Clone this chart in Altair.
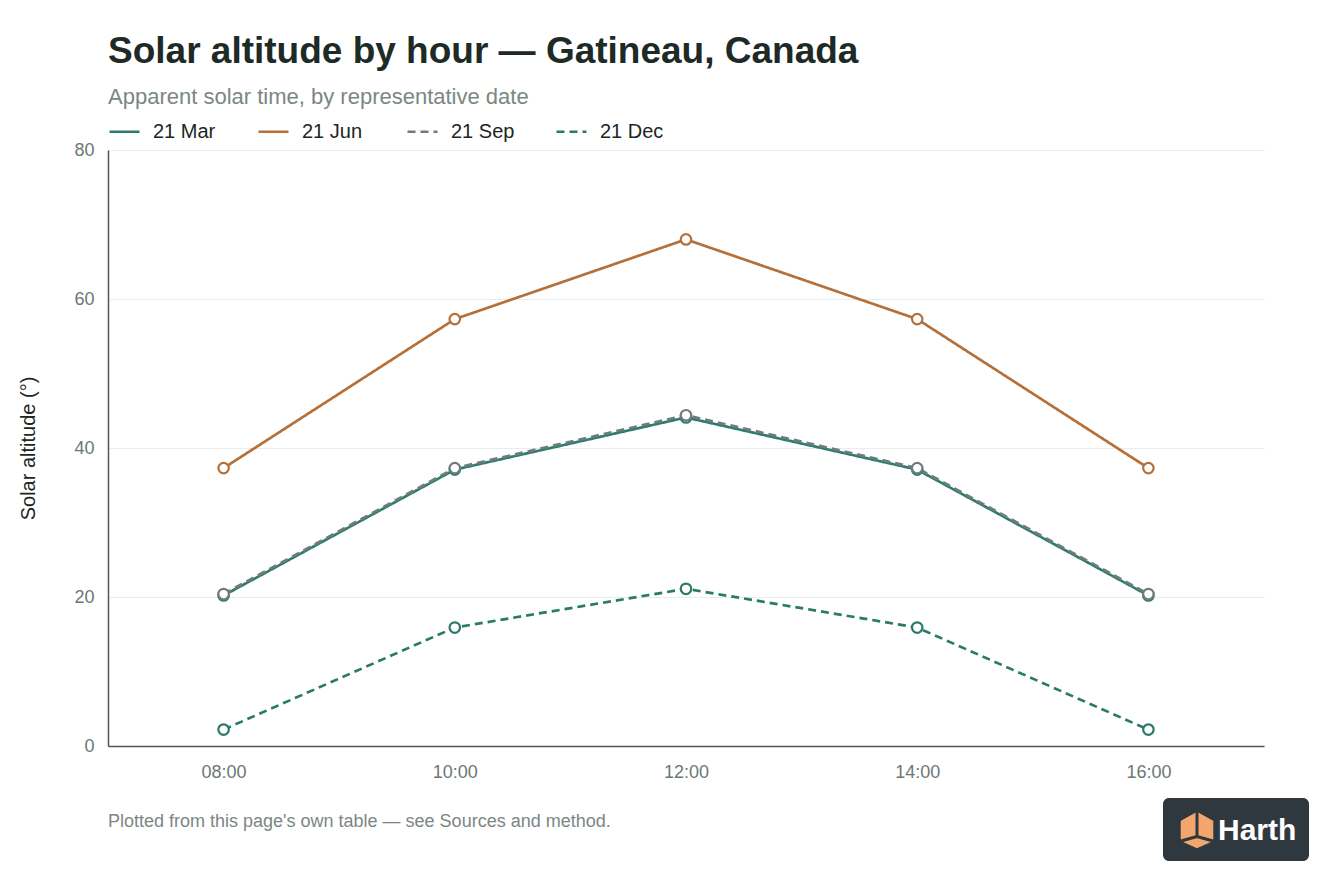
import altair as alt
import pandas as pd

# ------------------------------------------------------------
# data
# ------------------------------------------------------------
hours = [8, 10, 12, 14, 16]
series_names = ["21 Mar", "21 Jun", "21 Sep", "21 Dec"]
mar = [20.2, 37.1, 44.1, 37.1, 20.2]
jun = [37.3, 57.3, 68.0, 57.3, 37.3]
sep = [20.4, 37.3, 44.4, 37.3, 20.4]
dec = [2.2, 15.9, 21.1, 15.9, 2.2]

colors = ["#2f7d70", "#b5703a", "#6f7c79", "#2a7a68"]
dashes = [[1, 0], [1, 0], [8, 5], [8, 5]]

title_text = "Solar altitude by hour \u2014 Gatineau, Canada"
subtitle_text = "Apparent solar time, by representative date"
footer_text = ["Plotted from this page's own table \u2014 see Sources and method."]
logo_text = ["Harth"]

rows = []
for name, vals in zip(series_names, [mar, jun, sep, dec]):
    for h, v in zip(hours, vals):
        rows.append({"hour": h, "alt": v, "series": name, "order": series_names.index(name)})
df = pd.DataFrame(rows)

FONT = "Liberation Sans"
W, H = 1156, 596

x_enc = alt.X("hour:Q", scale=alt.Scale(domain=[7, 17], nice=False),
              axis=alt.Axis(values=hours, title=None, grid=False, ticks=False,
                            labelExpr="(datum.value < 10 ? '0' : '') + datum.value + ':00'",
                            labelPadding=17))
y_enc = alt.Y("alt:Q", scale=alt.Scale(domain=[0, 80], nice=False),
              axis=alt.Axis(values=[0, 20, 40, 60, 80], title="Solar altitude (\u00b0)",
                            ticks=False, labelPadding=14, titlePadding=35))
color_enc = alt.Color("series:N", scale=alt.Scale(domain=series_names, range=colors),
                      sort=series_names,
                      legend=alt.Legend(title=None, orient="none", legendX=0, legendY=-35,
                                        direction="horizontal", symbolType="stroke",
                                        symbolSize=900, symbolStrokeWidth=2.6,
                                        labelFontSize=20, labelFont=FONT, labelColor="#1d2624",
                                        labelOffset=12, columnPadding=36, gridAlign="all"))
dash_enc = alt.StrokeDash("series:N", scale=alt.Scale(domain=series_names, range=dashes),
                          sort=series_names, legend=None)

base = alt.Chart(df)

lines = base.mark_line(strokeWidth=2.7).encode(
    x=x_enc, y=y_enc, color=color_enc, strokeDash=dash_enc, detail="series:N"
)
points = base.mark_point(filled=False, fill="white", size=110, strokeWidth=2.2, opacity=1).encode(
    x="hour:Q", y="alt:Q", color=alt.Color("series:N", legend=None, sort=series_names),
    order="order:Q"
)

footer = alt.Chart(pd.DataFrame({"t": footer_text})).mark_text(
    align="left", baseline="middle", font=FONT, fontSize=18, color="#7b8784"
).encode(x=alt.value(0), y=alt.value(H + 76), text="t:N")

# small brand badge in the bottom right corner
badge = alt.Chart(pd.DataFrame({"t": logo_text})).mark_rect(
    color="#2e383e", cornerRadius=6
).encode(x=alt.value(1055), x2=alt.value(1201), y=alt.value(648), y2=alt.value(711))
badge_text = alt.Chart(pd.DataFrame({"t": logo_text})).mark_text(
    align="left", baseline="middle", font=FONT, fontSize=30, fontWeight="bold", color="white"
).encode(x=alt.value(1110), y=alt.value(681), text="t:N")
cube = alt.Chart(pd.DataFrame({"t": logo_text})).mark_point(
    shape="M0,-1 L0.9,-0.5 L0.9,0.6 L0,1 L-0.9,0.6 L-0.9,-0.5 Z",
    filled=True, fill="#f2a66e", stroke="#2e383e", strokeWidth=1, size=1400, opacity=1
).encode(x=alt.value(1089), y=alt.value(680))
cube_lines = alt.Chart(pd.DataFrame({"t": logo_text})).mark_point(
    shape="M0,-1 L0,0.35 M0,0.35 L-0.9,0.6 M0,0.35 L0.9,0.6",
    filled=False, stroke="#2e383e", strokeWidth=3, size=1400, opacity=1
).encode(x=alt.value(1089), y=alt.value(680))

chart = alt.layer(lines, points, footer, badge, cube, cube_lines, badge_text).resolve_scale(
    color="shared"
).properties(
    width=W, height=H,
    title=alt.TitleParams(text=title_text, subtitle=subtitle_text, anchor="start", frame="group",
                          font=FONT, fontSize=37, fontWeight="bold", color="#1d2a26",
                          subtitleFont=FONT, subtitleFontSize=22, subtitleColor="#7b8784",
                          subtitlePadding=16, offset=6),
    padding={"left": 10, "top": 25, "right": 5, "bottom": 5},
).configure_view(stroke=None).configure_axis(
    labelFont=FONT, labelFontSize=18, labelColor="#6b7875",
    titleFont=FONT, titleFontSize=20, titleFontWeight="normal", titleColor="#1d2624",
    domainColor="#555555", domainWidth=1.5, gridColor="#e8eceb", gridWidth=1
)

chart.save("out.html", embed_options={"renderer": "svg", "actions": False})
